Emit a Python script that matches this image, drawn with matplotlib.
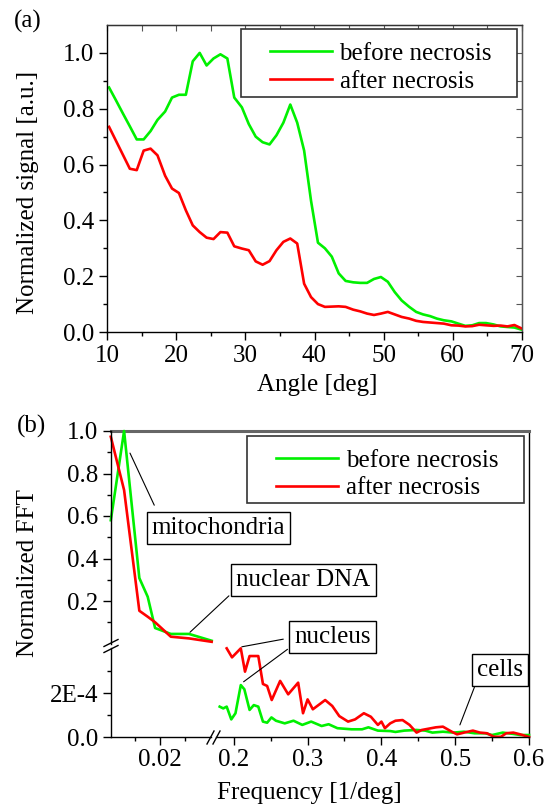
import matplotlib
matplotlib.use('Agg')
import matplotlib.pyplot as plt
from matplotlib.patches import Rectangle
from matplotlib.lines import Line2D
from matplotlib.ticker import FixedLocator, FormatStrFormatter

plt.rcParams['font.family'] = ['Liberation Serif', 'DejaVu Serif']
plt.rcParams['font.size'] = 18

# ---- panel (a): angular scattering ----
angle = [10.3, 11.3, 12.3, 13.3, 14.3, 15.3, 16.3, 17.3,
         18.4, 19.4, 20.4, 21.4, 22.4, 23.4, 24.4, 25.4, 26.4, 27.4, 28.4,
         29.5, 30.5, 31.5, 32.5, 33.5, 34.5, 35.5, 36.5, 37.5, 38.5, 39.5, 40.5, 41.5, 42.5, 43.5, 44.5,
         45.6, 46.6, 47.6, 48.6, 49.6, 50.6, 51.6, 52.6,
         53.7, 54.7, 55.7, 56.7, 57.7, 58.7,
         59.8, 60.8, 61.8, 62.8, 63.8, 64.8,
         65.9, 66.9, 67.9, 68.9, 70.0]
before_a = [0.876, 0.83, 0.783, 0.737, 0.69, 0.69, 0.72, 0.76,
            0.79, 0.84, 0.85, 0.85, 0.97, 1.0, 0.955, 0.98, 0.995, 0.98, 0.84,
            0.805, 0.745, 0.70, 0.68, 0.672, 0.705, 0.75, 0.815, 0.75, 0.65, 0.47, 0.32, 0.30, 0.27, 0.21, 0.183,
            0.178, 0.176, 0.176, 0.19, 0.197, 0.18, 0.143, 0.113,
            0.09, 0.072, 0.063, 0.057, 0.048, 0.042,
            0.038, 0.03, 0.022, 0.024, 0.032, 0.032,
            0.027, 0.02, 0.018, 0.016, 0.008]
after_a = [0.735, 0.685, 0.635, 0.585, 0.58, 0.65, 0.657, 0.633,
           0.56, 0.514, 0.498, 0.436, 0.382, 0.358, 0.338, 0.333, 0.358, 0.356, 0.307,
           0.299, 0.293, 0.253, 0.241, 0.254, 0.293, 0.323, 0.335, 0.317, 0.173, 0.125, 0.10, 0.09, 0.091, 0.092, 0.09,
           0.08, 0.074, 0.066, 0.061, 0.066, 0.072, 0.063, 0.054,
           0.048, 0.04, 0.036, 0.034, 0.032, 0.03,
           0.024, 0.023, 0.02, 0.021, 0.026, 0.024,
           0.022, 0.023, 0.02, 0.025, 0.012]

# ---- panel (b): FFT, low-frequency part (upper scale) ----
freq_lo = [0.0100, 0.0127, 0.0158, 0.0175, 0.0190, 0.0222, 0.0259, 0.0305]
before_lo = [0.58, 1.0, 0.308, 0.22, 0.073, 0.045, 0.045, 0.013]
after_lo = [0.973, 0.722, 0.154, 0.126, 0.100, 0.032, 0.024, 0.008]

# ---- panel (b): high-frequency part (lower scale, units of 1E-4) ----
freq_hi_after = [0.1905, 0.1977, 0.2096, 0.2153, 0.2215, 0.2333, 0.2396, 0.2453, 0.2515, 0.2629,
                 0.2738, 0.2873, 0.2939, 0.3001, 0.3072, 0.3239, 0.3335, 0.3430, 0.3549, 0.3644,
                 0.3763, 0.3858, 0.3953, 0.4001, 0.4048, 0.4120, 0.4191, 0.4287, 0.4382, 0.4477,
                 0.4548, 0.4739, 0.4834, 0.4954, 0.5025, 0.5120, 0.5240, 0.5335, 0.5430, 0.5525,
                 0.5620, 0.5691, 0.5787, 0.5882, 0.6000]
after_hi = [4.03, 3.62, 4.03, 2.97, 3.68, 3.68, 2.41, 2.32, 1.68, 2.55,
            1.94, 2.47, 1.08, 1.71, 1.26, 1.68, 1.41, 0.95, 0.70, 0.80,
            1.08, 0.92, 0.55, 0.70, 0.40, 0.62, 0.74, 0.77, 0.55, 0.20,
            0.32, 0.44, 0.47, 0.24, 0.12, 0.20, 0.29, 0.20, 0.17, 0.01,
            0.01, 0.17, 0.20, 0.12, 0.0]
freq_hi_before = [0.181, 0.1858, 0.1905, 0.1967, 0.2024, 0.2096, 0.2144, 0.2215, 0.2272, 0.2333,
                  0.2396, 0.2453, 0.2511, 0.2572, 0.2691, 0.2810, 0.2929, 0.3049, 0.3191, 0.3286,
                  0.3405, 0.3596, 0.3739, 0.3825, 0.3953, 0.412, 0.4191, 0.431, 0.4477, 0.4596,
                  0.4691, 0.4834, 0.4977, 0.512, 0.5263, 0.5406, 0.5501, 0.5644, 0.5787, 0.5882,
                  0.6]
before_hi = [1.38, 1.30, 1.38, 0.80, 1.08, 2.36, 2.17, 1.23, 1.45, 1.38,
             0.70, 0.65, 0.89, 0.74, 0.62, 0.74, 0.55, 0.70, 0.50, 0.58,
             0.40, 0.35, 0.35, 0.44, 0.29, 0.27, 0.23, 0.29, 0.32, 0.29,
             0.20, 0.24, 0.20, 0.24, 0.17, 0.17, 0.09, 0.20, 0.14, 0.09,
             0.09]

GREEN = '#00f000'
RED = '#ff0000'
LW = 1.9

W, H = 551, 807
fig = plt.figure(figsize=(W / 100, H / 100), dpi=100)


def box(l, t, r, b):
    return [l / W, 1 - b / H, (r - l) / W, (b - t) / H]


def fp(x, y):
    return (x / W, 1 - y / H)


def legend_at(handles, x_handle, y_top, rect):
    l, t, r, b = rect
    fig.add_artist(Rectangle(fp(l, b), (r - l) / W, (b - t) / H, transform=fig.transFigure,
                             fc='white', ec='#333333', lw=1.2, zorder=4))
    lg = fig.legend(handles=handles, loc='upper left', bbox_to_anchor=fp(x_handle, y_top),
                    frameon=False, borderpad=0, borderaxespad=0, handlelength=2.5,
                    handletextpad=0.3, labelspacing=0.2, fontsize=18)
    lg.set_zorder(5)


# ================= panel (a) =================
ax = fig.add_axes(box(107, 25, 522, 332))
ga, = ax.plot(angle, before_a, color=GREEN, lw=LW, label='before necrosis')
ra, = ax.plot(angle, after_a, color=RED, lw=LW, label='after necrosis')
ax.set_xlim(10, 70)
ax.set_ylim(0, 1.1)
ax.xaxis.set_major_locator(FixedLocator([10, 20, 30, 40, 50, 60, 70]))
ax.xaxis.set_minor_locator(FixedLocator([15, 25, 35, 45, 55, 65]))
ax.yaxis.set_major_locator(FixedLocator([0, 0.2, 0.4, 0.6, 0.8, 1.0]))
ax.yaxis.set_minor_locator(FixedLocator([0.1, 0.3, 0.5, 0.7, 0.9]))
ax.yaxis.set_major_formatter(FormatStrFormatter('%.1f'))
ax.tick_params(which='major', direction='out', length=6, width=1, pad=3)
ax.tick_params(which='minor', direction='out', length=3, width=1)
for sp in ax.spines.values():
    sp.set_linewidth(1)
ax.spines['top'].set_color('#333333')
ax.spines['right'].set_color('#555555')
top = ax.secondary_xaxis('top')
top.xaxis.set_major_locator(FixedLocator([10, 20, 30, 40, 50, 60, 70]))
top.xaxis.set_minor_locator(FixedLocator([15, 25, 35, 45, 55, 65]))
top.tick_params(which='both', direction='in', labeltop=False, length=4, width=0.8, color='#555555')
right = ax.secondary_yaxis('right')
right.yaxis.set_major_locator(FixedLocator([0, 0.2, 0.4, 0.6, 0.8, 1.0]))
right.yaxis.set_minor_locator(FixedLocator([0.1, 0.3, 0.5, 0.7, 0.9]))
right.tick_params(which='both', direction='in', labelright=False, length=4, width=0.8, color='#555555')

legend_at([ga, ra], 269.5, 42.5, (241.4, 29, 516.5, 96.7))

fig.text(*fp(28, 21), '(a)', ha='center', va='center')
fig.text(*fp(28, 192), 'Normalized signal [a.u.]', rotation=90, ha='center', va='center')
fig.text(*fp(317, 385), 'Angle [deg]', ha='center', va='center')

# ================= panel (b) =================
frame = fig.add_axes(box(111, 431, 529, 737))
frame.set_facecolor('none')
frame.set_xticks([])
frame.set_yticks([])
frame.spines['left'].set_visible(False)
frame.spines['bottom'].set_visible(False)
frame.spines['top'].set_color('#666666')
frame.spines['top'].set_linewidth(2.2)
frame.spines['right'].set_linewidth(1)

xlo = (0.02 - 49 / 4920, 0.02 + 51 / 4920)
xhi = (0.2 - 17.7 / 738, 0.6)
ytop_lo = 89 / 44 * 2e-4

# upper-left: low frequencies, full scale
ax_lu = fig.add_axes(box(111, 431, 211, 644))
ax_lu.set_facecolor('none')
ax_lu.plot(freq_lo, before_lo, color=GREEN, lw=LW, clip_on=False)
ax_lu.plot(freq_lo, after_lo, color=RED, lw=LW, clip_on=False)
ax_lu.set_xlim(*xlo)
ax_lu.set_ylim(1 - 213 / 212.5, 1.0)
for s in ('top', 'right', 'bottom'):
    ax_lu.spines[s].set_visible(False)
ax_lu.set_xticks([])
ax_lu.yaxis.set_major_locator(FixedLocator([0.2, 0.4, 0.6, 0.8, 1.0]))
ax_lu.yaxis.set_minor_locator(FixedLocator([0.1, 0.3, 0.5, 0.7, 0.9]))
ax_lu.yaxis.set_major_formatter(FormatStrFormatter('%.1f'))

# lower-left: axis only
ax_ll = fig.add_axes(box(111, 648, 211, 737))
ax_ll.set_facecolor('none')
ax_ll.set_xlim(*xlo)
ax_ll.set_ylim(0, ytop_lo)
for s in ('top', 'right'):
    ax_ll.spines[s].set_visible(False)
ax_ll.yaxis.set_major_locator(FixedLocator([0, 2e-4]))
ax_ll.yaxis.set_minor_locator(FixedLocator([1e-4, 3e-4]))
ax_ll.set_yticklabels(['0.0', '2E-4'])
ax_ll.xaxis.set_major_locator(FixedLocator([0.02]))
ax_ll.xaxis.set_minor_locator(FixedLocator([0.015, 0.025]))
ax_ll.set_xticklabels(['0.02'])

# lower-right: high frequencies, magnified scale
ax_rl = fig.add_axes(box(216, 648, 529, 737))
ax_rl.set_facecolor('none')
ax_rl.plot(freq_hi_before, [v * 1e-4 for v in before_hi], color=GREEN, lw=LW, clip_on=False)
ax_rl.plot(freq_hi_after, [v * 1e-4 for v in after_hi], color=RED, lw=LW, clip_on=False)
ax_rl.set_xlim(*xhi)
ax_rl.set_ylim(0, ytop_lo)
for s in ('top', 'right', 'left'):
    ax_rl.spines[s].set_visible(False)
ax_rl.set_yticks([])
ax_rl.xaxis.set_major_locator(FixedLocator([0.2, 0.3, 0.4, 0.5, 0.6]))
ax_rl.xaxis.set_minor_locator(FixedLocator([0.25, 0.35, 0.45, 0.55]))
ax_rl.xaxis.set_major_formatter(FormatStrFormatter('%.1f'))

for a in (ax_lu, ax_ll, ax_rl):
    a.tick_params(which='major', direction='out', length=6, width=1, pad=3)
    a.tick_params(which='minor', direction='out', length=3, width=1)
    for sp in a.spines.values():
        sp.set_linewidth(1)

# axis break marks
for yb in (643, 649):
    fig.add_artist(Line2D([104 / W, 118 / W], [1 - (yb + 3.5) / H, 1 - (yb - 3.5) / H],
                          transform=fig.transFigure, color='black', lw=1))
for xb in (210.5, 216.5):
    fig.add_artist(Line2D([(xb - 3.5) / W, (xb + 3.5) / W], [1 - 744 / H, 1 - 731 / H],
                          transform=fig.transFigure, color='black', lw=1))

gb = Line2D([], [], color=GREEN, lw=LW, label='before necrosis')
rb = Line2D([], [], color=RED, lw=LW, label='after necrosis')
legend_at([gb, rb], 275.9, 449.5, (247, 436, 523.7, 502.7))

bbox = dict(boxstyle='square,pad=0.2', fc='white', ec='black', lw=1)
leader = dict(arrowstyle='-', color='black', lw=0.8, shrinkB=0)

ax_lu.annotate('mitochondria', xy=(0.0139, 0.896), xytext=fp(218.5, 528),
               textcoords='figure fraction', ha='center', va='center', bbox=bbox,
               arrowprops=dict(leader, relpos=(0.06, 1.0), shrinkA=5))
ax_lu.annotate('nuclear DNA', xy=(0.0261, 0.053), xytext=fp(303.5, 580),
               textcoords='figure fraction', ha='center', va='center', bbox=bbox,
               arrowprops=dict(leader, relpos=(0.0, 0.1), shrinkA=2))
ax_rl.annotate('nucleus', xy=(0.211, 4.1e-4), xytext=fp(332.5, 636.7),
               textcoords='figure fraction', ha='center', va='center', bbox=bbox,
               annotation_clip=False,
               arrowprops=dict(leader, relpos=(0.0, 0.48), shrinkA=4))
ax_rl.annotate('', xy=(0.2134, 2.51e-4), xytext=fp(287.5, 649.3),
               textcoords='figure fraction', annotation_clip=False,
               arrowprops=dict(leader, shrinkA=0))
ax_rl.annotate('cells', xy=(0.5064, 0.55e-4), xytext=fp(500, 669.5),
               textcoords='figure fraction', ha='center', va='center', bbox=bbox,
               arrowprops=dict(leader, relpos=(0.0, 0.0), shrinkA=1))

fig.text(*fp(32, 426), '(b)', ha='center', va='center')
fig.text(*fp(28, 573), 'Normalized FFT', rotation=90, ha='center', va='center')
fig.text(*fp(309, 793), 'Frequency [1/deg]', ha='center', va='center')

fig.savefig('out.png', dpi=100)
